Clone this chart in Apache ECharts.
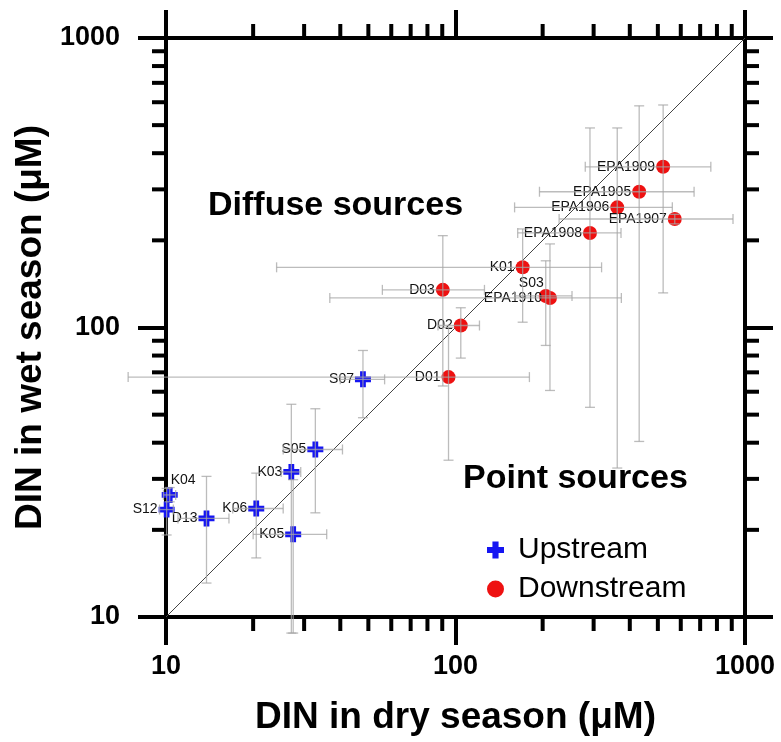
<!DOCTYPE html>
<html>
<head>
<meta charset="utf-8">
<script src="https://cdn.jsdelivr.net/npm/echarts@6/dist/echarts.min.js"></script>
<style>
html,body{margin:0;padding:0;background:#fff;}
#chart{width:781px;height:742px;}
</style>
</head>
<body>
<div id="chart"></div>
<script>
// ---- Data ----
var upNames = ['K04','S12','D13','K06','K03','K05','S05','S07'];
var upX     = [10.3, 10.05, 13.8, 20.5, 27.1, 27.5, 32.8, 47.9];
var upY     = [26.4, 23.5, 21.9, 23.7, 31.7, 19.3, 37.9, 66.2];
var upXLo   = [9.8, 9.5, 11.0, 17.0, 25.0, 20.0, 25.4, 40.0];
var upXHi   = [10.8, 10.6, 16.5, 25.4, 29.2, 35.9, 40.7, 56.9];
var upYLo   = [25.0, 19.2, 13.1, 16.0, 8.8, 8.8, 22.9, 48.8];
var upYHi   = [28.0, 27.8, 30.6, 31.4, 54.3, 29.8, 52.4, 83.3];

var dnNames = ['D01','D02','D03','K01','S03','EPA1910','EPA1908','EPA1906','EPA1905','EPA1909','EPA1907'];
var dnX     = [94.6, 104.3, 90.4, 170.6, 205, 212, 291.4, 362, 431, 521.5, 572];
var dnY     = [67.4, 101.6, 134.9, 161.4, 128.5, 126.5, 212.1, 260, 294.4, 359, 237];
var dnXLo   = [7.4, 87, 55.9, 24.1, 160, 36.8, 164, 160, 195, 280.7, 228];
var dnXHi   = [180, 121, 125.9, 319.6, 252.6, 374, 373, 561, 667, 762, 909];
var dnYLo   = [34.8, 78.4, 62.8, 104.3, 86.7, 60.6, 53, 32.7, 40.4, 131.7, 228];
var dnYHi   = [100, 117, 207.6, 219, 170, 194.4, 489, 489, 583, 587, 246];

var axisMin = 10, axisMax = 1000;
var tickLabels = ['10', '100', '1000'];
var minorTickValues = [];
for (var d = 10; d < 1000; d *= 10) { for (var m = 2; m <= 9; m++) minorTickValues.push(m * d); }

var oneToOne = [[axisMin, axisMin], [axisMax, axisMax]];

// ---- Styles ----
var FONT = '"Liberation Sans", Arial, sans-serif';
var plusPath = 'path://M3.2,0h3.6v3.2h3.2v3.6h-3.2v3.2h-3.6v-3.2h-3.2v-3.6h3.2z';
var labelOverrides = {
  'K04': {position: [9, -14]},
  'S03': {position: 'left', offset: [6, -13]}
};

function buildPoints(names, xs, ys) {
  return names.map(function (n, i) {
    var item = {name: n, value: [xs[i], ys[i]]};
    if (labelOverrides[n]) item.label = labelOverrides[n];
    return item;
  });
}
function buildErr(xs, ys, xlo, xhi, ylo, yhi) {
  return xs.map(function (x, i) { return [xs[i], ys[i], xlo[i], xhi[i], ylo[i], yhi[i]]; });
}

function errRender(params, api) {
  var x = api.value(0), y = api.value(1);
  var xl = api.value(2), xh = api.value(3), yl = api.value(4), yh = api.value(5);
  var pL = api.coord([xl, y]), pR = api.coord([xh, y]);
  var pB = api.coord([x, yl]), pT = api.coord([x, yh]);
  var c = 5;
  var st = {stroke: 'rgba(165,165,165,0.75)', lineWidth: 1.3, fill: null};
  var segs = [
    [pL, pR], [[pL[0], pL[1]-c], [pL[0], pL[1]+c]], [[pR[0], pR[1]-c], [pR[0], pR[1]+c]],
    [pB, pT], [[pB[0]-c, pB[1]], [pB[0]+c, pB[1]]], [[pT[0]-c, pT[1]], [pT[0]+c, pT[1]]]
  ];
  return {type: 'group', children: segs.map(function (s) {
    return {type: 'line', shape: {x1: s[0][0], y1: s[0][1], x2: s[1][0], y2: s[1][1]}, style: st};
  })};
}

function minorRender(params, api) {
  var v = api.value(0);
  var L = 14;
  var b = api.coord([v, axisMin]), t = api.coord([v, axisMax]);
  var l = api.coord([axisMin, v]), r = api.coord([axisMax, v]);
  var st = {stroke: '#000', lineWidth: 4};
  return {type: 'group', children: [
    {type: 'line', shape: {x1: b[0], y1: b[1], x2: b[0], y2: b[1] + L}, style: st},
    {type: 'line', shape: {x1: t[0], y1: t[1], x2: t[0], y2: t[1] - L}, style: st},
    {type: 'line', shape: {x1: l[0], y1: l[1], x2: l[0] - L, y2: l[1]}, style: st},
    {type: 'line', shape: {x1: r[0], y1: r[1], x2: r[0] + L, y2: r[1]}, style: st}
  ]};
}

function logAxis(pos, showLabel, name) {
  var isX = (pos === 'bottom' || pos === 'top');
  var ax = {
    type: 'log', logBase: 10, min: axisMin, max: axisMax, position: pos,
    axisLine: {show: true, onZero: false, lineStyle: {color: '#000', width: 4}},
    axisTick: {show: true, inside: false, length: 28, lineStyle: {color: '#000', width: 4}},
    minorTick: {show: false},
    splitLine: {show: false},
    axisLabel: {
      show: showLabel, color: '#000', fontFamily: FONT, fontWeight: 'bold', fontSize: 27,
      margin: isX ? 36 : 46,
      formatter: function (v) { var s = String(Math.round(v)); return tickLabels.indexOf(s) >= 0 ? s : ''; }
    }
  };
  if (name) {
    ax.name = name;
    ax.nameLocation = 'middle';
    ax.nameTextStyle = {color: '#000', fontFamily: FONT, fontWeight: 'bold', fontSize: 37};
    ax.nameGap = isX ? 82 : 117;
  }
  return ax;
}

var chart = echarts.init(document.getElementById('chart'), null, {renderer: 'canvas'});
chart.setOption({
  animation: false,
  backgroundColor: '#fff',
  grid: {left: 166, right: 36, top: 38, bottom: 125, containLabel: false},
  xAxis: [logAxis('bottom', true, 'DIN in dry season (\u03bcM)'), logAxis('top', false)],
  yAxis: [logAxis('left', true, 'DIN in wet season (\u03bcM)'), logAxis('right', false)],
  legend: {
    orient: 'vertical', left: 482, top: 530, itemGap: 9, itemWidth: 17, itemHeight: 17,
    data: ['Upstream', 'Downstream'],
    textStyle: {fontFamily: FONT, fontSize: 30, color: '#000', padding: [0, 0, 0, 9]}
  },
  graphic: [
    {type: 'text', left: 208, top: 189, style: {text: 'Diffuse sources', font: 'bold 34px ' + FONT, fill: '#000'}},
    {type: 'text', left: 463, top: 462, style: {text: 'Point sources', font: 'bold 34px ' + FONT, fill: '#000'}}
  ],
  series: [
    {type: 'custom', name: 'minorTicks', renderItem: minorRender, data: minorTickValues.map(function (v) { return [v]; }),
     clip: false, silent: true, z: 5, encode: {x: 0}},
    {type: 'line', name: '1:1', data: oneToOne, symbol: 'none', silent: true,
     lineStyle: {color: '#444', width: 1}, z: 1},
    {type: 'scatter', name: 'Upstream', symbol: plusPath, symbolSize: 16,
     itemStyle: {color: '#1515f2', opacity: 1}, z: 3,
     label: {show: true, position: 'left', distance: 1, formatter: '{b}', color: '#111', fontFamily: FONT, fontSize: 14},
     data: buildPoints(upNames, upX, upY)},
    {type: 'scatter', name: 'Downstream', symbol: 'circle', symbolSize: 14,
     itemStyle: {color: '#ee1111', opacity: 1}, z: 3,
     label: {show: true, position: 'left', distance: 1, formatter: '{b}', color: '#111', fontFamily: FONT, fontSize: 14},
     data: buildPoints(dnNames, dnX, dnY)},
    {type: 'custom', name: 'errUp', renderItem: errRender, data: buildErr(upX, upY, upXLo, upXHi, upYLo, upYHi),
     clip: false, silent: true, z: 4, encode: {x: 0, y: 1}},
    {type: 'custom', name: 'errDn', renderItem: errRender, data: buildErr(dnX, dnY, dnXLo, dnXHi, dnYLo, dnYHi),
     clip: false, silent: true, z: 4, encode: {x: 0, y: 1}}
  ]
});
</script>
</body>
</html>
